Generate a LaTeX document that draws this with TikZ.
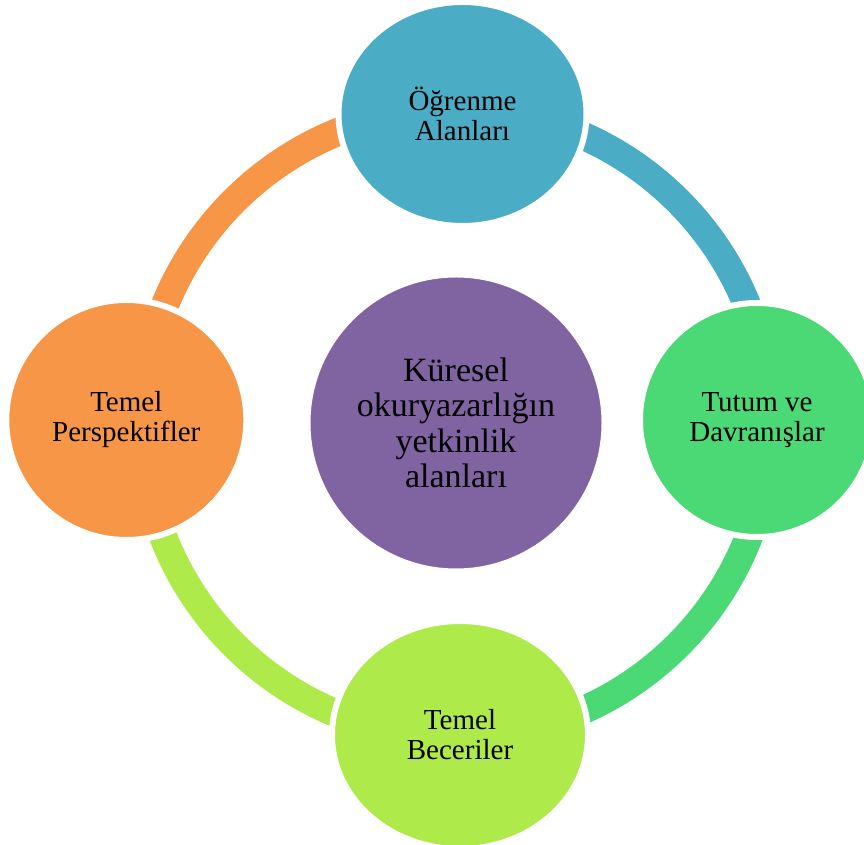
\documentclass[tikz,border=0pt]{standalone}
\usepackage{fontspec}
\setmainfont{Liberation Serif}
\usetikzlibrary{shapes.geometric}

\definecolor{learnblue}{HTML}{4BACC6}
\definecolor{attgreen}{HTML}{4AD975}
\definecolor{skilllime}{HTML}{AEEA4A}
\definecolor{perspor}{HTML}{F79646}
\definecolor{hubpurple}{HTML}{8064A2}

\pgfdeclarelayer{background}
\pgfsetlayers{background,main}

\begin{document}
\begin{tikzpicture}[x=1pt,y=1pt,
  bubble/.style={draw=white, line width=6pt, inner sep=0pt},
  ringarc/.style={line width=28pt},
  bubbletext/.style={align=center, text=black, font=\fontsize{29}{30}\selectfont},
  hubtext/.style={align=center, text=black, font=\fontsize{34}{35.5}\selectfont},
]
\clip (0,0) rectangle (864,845);

% central circle and the four surrounding bubbles
\node[bubble, circle, fill=hubpurple, minimum size=297pt] (hub) at (456,422) {};
\node[bubble, ellipse, fill=learnblue, minimum width=248pt, minimum height=224pt] (learn) at (462.5,731) {};
\node[bubble, circle, fill=attgreen, minimum size=234pt] (attitude) at (757,425) {};
\node[bubble, ellipse, fill=skilllime, minimum width=256pt, minimum height=228pt] (skills) at (460,110) {};
\node[bubble, circle, fill=perspor, minimum size=240pt] (persp) at (126.3,425) {};

% texts
\node[hubtext] (hub-text) at (hub.center) {Küresel\\okuryazarlığın\\yetkinlik\\alanları};
\node[bubbletext] (learn-text) at (learn.center) {Öğrenme\\Alanları};
\node[bubbletext] (attitude-text) at (attitude.center) {Tutum ve\\Davranışlar};
\node[bubbletext] (skills-text) at (skills.center) {Temel\\Beceriler};
\node[bubbletext] (persp-text) at (persp.center) {Temel\\Perspektifler};

% ring segments running clockwise from one bubble to the next
\begin{pgfonlayer}{background}
  \fill[white] (0,0) rectangle (864,845);
  \draw[ringarc, learnblue] ([shift={(90:314pt)}]hub.center) arc[start angle=90, end angle=0, radius=314pt];
  \draw[ringarc, attgreen] ([shift={(0:314pt)}]hub.center) arc[start angle=0, end angle=-90, radius=314pt];
  \draw[ringarc, skilllime] ([shift={(-90:314pt)}]hub.center) arc[start angle=-90, end angle=-180, radius=314pt];
  \draw[ringarc, perspor] ([shift={(180:314pt)}]hub.center) arc[start angle=180, end angle=90, radius=314pt];
\end{pgfonlayer}
\end{tikzpicture}
\end{document}
